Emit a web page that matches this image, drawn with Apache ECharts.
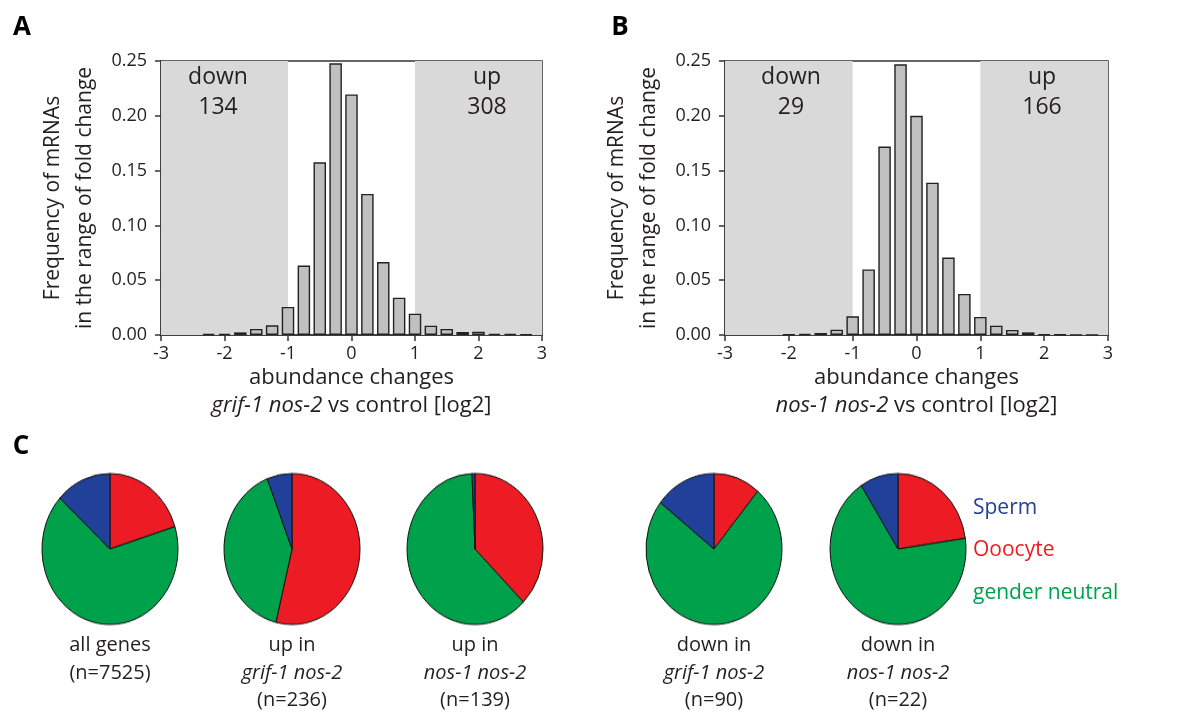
<!DOCTYPE html>
<html>
<head>
<meta charset="utf-8">
<script src="https://cdn.jsdelivr.net/npm/echarts@6/dist/echarts.min.js"></script>
<style>
  html, body { margin: 0; padding: 0; background: #fff; }
  #wrap { position: relative; width: 1181px; height: 718px; }
  #chart { position: absolute; left: 0; top: 0; width: 1181px; height: 718px; }
  /* pies are drawn slightly taller than wide */
  #pies { position: absolute; left: 0; top: 459px; width: 1181px; height: 180px;
          transform: scaleY(1.11); transform-origin: 0 90px; pointer-events: none; }
</style>
</head>
<body>
<div id="wrap">
  <div id="chart"></div>
  <div id="pies"></div>
</div>
<script>
// Histogram bins: log2 fold-change bin centres (bin width 0.25)
const binCenters = [-2.75, -2.5, -2.25, -2, -1.75, -1.5, -1.25, -1, -0.75, -0.5, -0.25, 0,
                    0.25, 0.5, 0.75, 1, 1.25, 1.5, 1.75, 2, 2.25, 2.5, 2.75];
// Frequency of mRNAs per bin, grif-1 nos-2 vs control
const freqGrif = [null, null, 0.001, 0.0012, 0.0024, 0.0055, 0.0088, 0.0256, 0.0634, 0.1576, 0.2479, 0.2195,
                  0.1287, 0.0665, 0.0341, 0.0195, 0.0085, 0.0055, 0.0027, 0.003, 0.0012, 0.0009, 0.0006];
// Frequency of mRNAs per bin, nos-1 nos-2 vs control
const freqNos = [null, null, null, 0.0004, 0.001, 0.0018, 0.0049, 0.0171, 0.0598, 0.172, 0.247, 0.2,
                 0.139, 0.0707, 0.0375, 0.0165, 0.0085, 0.0046, 0.0024, 0.0006, 0.0004, 0.0003, 0.0003];
const xTicks = [-3, -2, -1, 0, 1, 2, 3];
const yTicks = ['0.00', '0.05', '0.10', '0.15', '0.20', '0.25'];
const regulatedCounts = { grif: { down: 134, up: 308 }, nos: { down: 29, up: 166 } };

// Germline-enrichment composition of each gene set
const pieTitles = ['all genes', 'up in', 'up in', 'down in', 'down in'];
const pieGenotypes = ['', 'grif-1 nos-2', 'nos-1 nos-2', 'grif-1 nos-2', 'nos-1 nos-2'];
const pieN = [7525, 236, 139, 90, 22];
const oocyteGenes = [1520, 127, 52, 10, 5];
const neutralGenes = [5012, 95, 86, 67, 15];
const spermGenes = [993, 14, 1, 13, 2];
const categoryNames = ['Ooocyte', 'gender neutral', 'Sperm'];
const categoryColors = ['#ed1c24', '#00a14b', '#21409a'];

const FONT = '"Open Sans", "Noto Sans", sans-serif';
const INK = '#231f20';

const chart = echarts.init(document.getElementById('chart'));
const pieChart = echarts.init(document.getElementById('pies'));

const grids = [
  { left: 161, top: 61, width: 381, height: 274 },
  { left: 725, top: 61, width: 383, height: 274 }
];
const genotypes = ['grif-1 nos-2', 'nos-1 nos-2'];

function xAxisFor(i) {
  return {
    type: 'value', gridIndex: i, min: -3, max: 3, interval: 1,
    axisLine: { show: true, onZero: false, lineStyle: { color: '#333', width: 1.5 } },
    axisTick: { show: true, inside: false, length: 6, lineStyle: { color: '#333', width: 1.5 } },
    axisLabel: { color: INK, fontSize: 18, fontFamily: FONT, margin: 10,
      formatter: v => xTicks.indexOf(v) >= 0 ? String(v) : '' },
    splitLine: { show: false },
    name: 'abundance changes\n{i|' + genotypes[i] + '} vs control [log2]',
    nameLocation: 'middle', nameGap: 29,
    nameTextStyle: { color: INK, fontSize: 22, fontFamily: FONT, lineHeight: 28,
      verticalAlign: 'top',
      rich: { i: { fontStyle: 'italic', fontSize: 22, fontFamily: FONT, color: INK, lineHeight: 28 } } }
  };
}
function yAxisFor(i) {
  return {
    type: 'value', gridIndex: i, min: 0, max: 0.25, interval: 0.05,
    axisLine: { show: true, onZero: false, lineStyle: { color: '#333', width: 1.5 } },
    axisTick: { show: true, inside: false, length: 6, lineStyle: { color: '#333', width: 1.5 } },
    axisLabel: { color: INK, fontSize: 18, fontFamily: FONT, margin: 14,
      formatter: v => yTicks[Math.round(v / 0.05)] },
    splitLine: { show: false },
    name: 'Frequency of mRNAs\nin the range of fold change',
    nameLocation: 'middle', nameRotate: 90, nameGap: 60,
    nameTextStyle: { color: INK, fontSize: 21, fontFamily: FONT, lineHeight: 32 }
  };
}

function histSeries(i, freq) {
  return {
    type: 'bar', xAxisIndex: i, yAxisIndex: i,
    data: binCenters.map((c, k) => [c, freq[k]]),
    barWidth: 12.5,
    itemStyle: { color: '#c0c0c0', borderColor: '#222', borderWidth: 1.4 },
    silent: true,
    markArea: {
      silent: true,
      itemStyle: { color: '#d9d9d9' },
      data: [
        [{ xAxis: -3, yAxis: 0 }, { xAxis: -1, yAxis: 0.25 }],
        [{ xAxis: 1, yAxis: 0 }, { xAxis: 3, yAxis: 0.25 }]
      ]
    },
    z: 3
  };
}

const pieCentersX = [110, 292, 475, 714, 898];
const pieSeries = pieCentersX.map((cx, k) => ({
  type: 'pie', center: [cx, 90], radius: 68, startAngle: 90, clockwise: true,
  label: { show: false }, labelLine: { show: false }, silent: true,
  itemStyle: { borderColor: '#111', borderWidth: 1 },
  data: [
    { name: categoryNames[0], value: oocyteGenes[k], itemStyle: { color: categoryColors[0] } },
    { name: categoryNames[1], value: neutralGenes[k], itemStyle: { color: categoryColors[1] } },
    { name: categoryNames[2], value: spermGenes[k], itemStyle: { color: categoryColors[2] } }
  ]
}));

const pieCaptions = pieCentersX.map((cx, k) => {
  const parts = [pieTitles[k]];
  if (pieGenotypes[k]) parts.push('{i|' + pieGenotypes[k] + '}');
  parts.push('(n=' + pieN[k] + ')');
  return {
    type: 'text', x: cx, y: 632, silent: true, z: 10,
    style: {
      text: parts.join('\n'), fill: INK, fontSize: 20, fontFamily: FONT,
      align: 'center', lineHeight: 27.5,
      rich: { i: { fontStyle: 'italic', fontSize: 20, fontFamily: FONT, fill: INK, lineHeight: 27.5 } }
    }
  };
});

function label(x, y, text) {
  return { type: 'text', x: x, y: y, silent: true, z: 10,
    style: { text: text, fill: INK, fontSize: 23, fontFamily: FONT, align: 'center', verticalAlign: 'middle' } };
}
function panelLetter(x, y, text) {
  return { type: 'text', x: x, y: y, silent: true, z: 10,
    style: { text: text, fill: '#000', fontSize: 26, fontWeight: 'bold', fontFamily: FONT,
             align: 'center', verticalAlign: 'middle' } };
}

// Legend entries: coloured category names beside the pies
const legendY = [508, 550, 593];
const legendOrder = [2, 0, 1];
const legendTexts = legendOrder.map((ci, k) => ({
  type: 'text', x: 973, y: legendY[k], silent: true, z: 10,
  style: { text: categoryNames[ci], fill: categoryColors[ci], fontSize: 21, fontFamily: FONT,
           align: 'left', verticalAlign: 'middle' }
}));

chart.setOption({
  animation: false,
  backgroundColor: '#fff',
  grid: grids.map(g => Object.assign({ show: true, borderColor: '#333', borderWidth: 1.5,
                                        backgroundColor: 'transparent' }, g)),
  xAxis: [xAxisFor(0), xAxisFor(1)],
  yAxis: [yAxisFor(0), yAxisFor(1)],
  series: [histSeries(0, freqGrif), histSeries(1, freqNos)],
  graphic: [
    panelLetter(22, 28, 'A'), panelLetter(620, 28, 'B'), panelLetter(21, 447, 'C'),
    label(218, 77, 'down'), label(218, 107, String(regulatedCounts.grif.down)),
    label(487, 77, 'up'), label(487, 107, String(regulatedCounts.grif.up)),
    label(791, 77, 'down'), label(791, 107, String(regulatedCounts.nos.down)),
    label(1042, 77, 'up'), label(1042, 107, String(regulatedCounts.nos.up))
  ].concat(pieCaptions, legendTexts)
});

pieChart.setOption({
  animation: false,
  series: pieSeries
});
</script>
</body>
</html>
